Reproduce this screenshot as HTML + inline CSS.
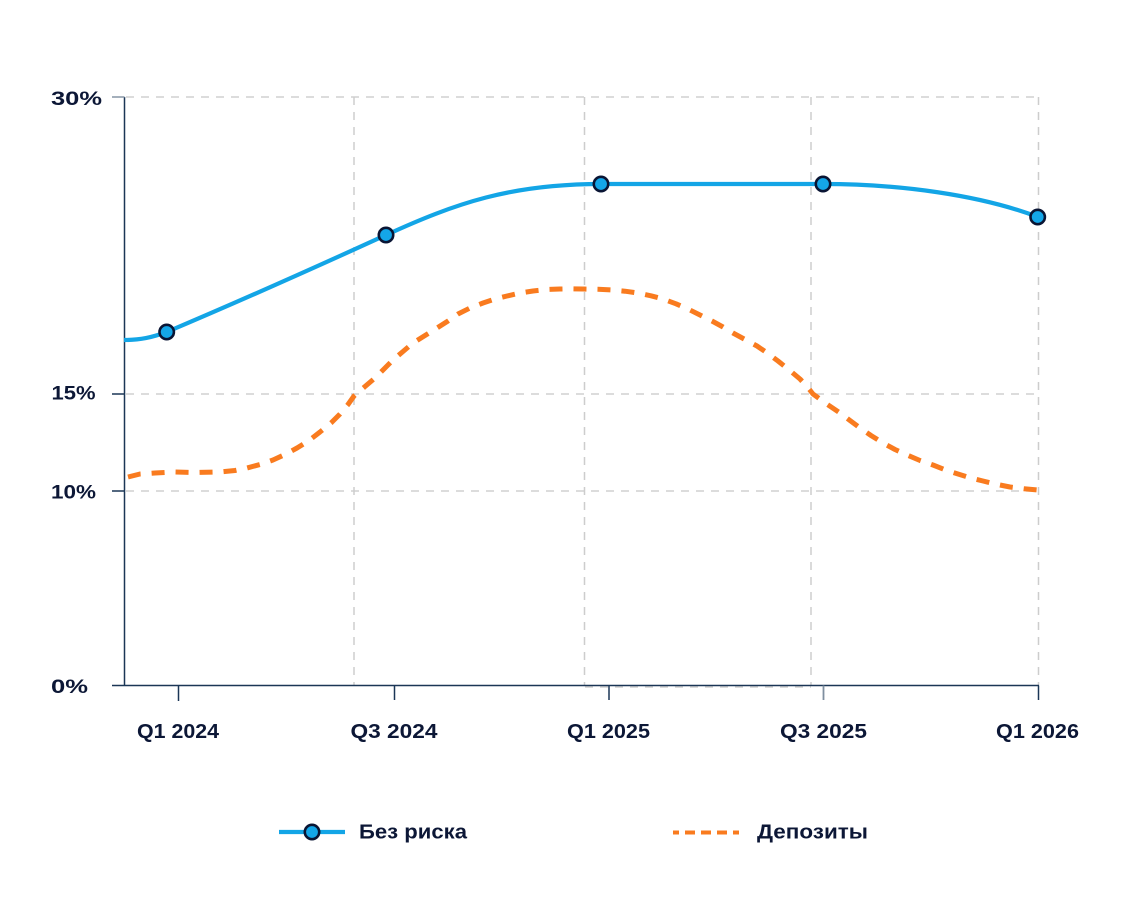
<!DOCTYPE html>
<html>
<head>
<meta charset="utf-8">
<style>
  html, body { margin: 0; padding: 0; background: #ffffff; }
  body { width: 1144px; height: 919px; overflow: hidden; }
  svg { display: block; }
  text { font-family: "Liberation Sans", "DejaVu Sans", sans-serif; font-weight: bold; fill: #0c1736; }
</style>
</head>
<body>
<svg width="1144" height="919" viewBox="0 0 1144 919" xmlns="http://www.w3.org/2000/svg">
  <rect width="1144" height="919" fill="#ffffff"/>

  <!-- horizontal gridlines -->
  <g stroke="#c6c6c6" stroke-width="1.3" stroke-dasharray="8 7" fill="none">
    <line x1="126" y1="97" x2="1038" y2="97"/>
    <line x1="126" y1="394" x2="1038" y2="394"/>
    <line x1="126" y1="491" x2="1038" y2="491"/>
    <line x1="585" y1="687" x2="811" y2="687"/>
  </g>
  <!-- vertical gridlines -->
  <g stroke="#cdcdcd" stroke-width="1.5" stroke-dasharray="8 7" fill="none">
    <line x1="354" y1="97" x2="354" y2="685"/>
    <line x1="584.5" y1="97" x2="584.5" y2="685"/>
    <line x1="811" y1="97" x2="811" y2="685"/>
    <line x1="1038.5" y1="97" x2="1038.5" y2="685"/>
  </g>

  <!-- axes -->
  <g stroke="#1b3656" stroke-width="1.5" fill="none">
    <line x1="124.5" y1="97" x2="124.5" y2="685.5"/>
    <line x1="112" y1="685.5" x2="1039" y2="685.5"/>
    <line x1="112" y1="394" x2="124.5" y2="394"/>
    <line x1="112" y1="491" x2="124.5" y2="491"/>
    <line x1="178.5" y1="685.5" x2="178.5" y2="701"/>
    <line x1="394.5" y1="685.5" x2="394.5" y2="700"/>
    <line x1="609" y1="685.5" x2="609" y2="700"/>
    <line x1="1038.5" y1="685.5" x2="1038.5" y2="700"/>
  </g>
  <line x1="112" y1="97" x2="124.5" y2="97" stroke="#8796a6" stroke-width="1.5"/>
  <line x1="823.5" y1="685.5" x2="823.5" y2="700" stroke="#7f8fa0" stroke-width="1.8"/>

  <!-- y labels -->
  <text x="51" y="105" font-size="19.5" textLength="51" lengthAdjust="spacingAndGlyphs">30%</text>
  <text x="51.5" y="399.5" font-size="19.5" textLength="44" lengthAdjust="spacingAndGlyphs">15%</text>
  <text x="51" y="498.5" font-size="19.5" textLength="45" lengthAdjust="spacingAndGlyphs">10%</text>
  <text x="51" y="693" font-size="19.5" textLength="37" lengthAdjust="spacingAndGlyphs">0%</text>

  <!-- x labels -->
  <text x="137" y="738" font-size="20" textLength="82" lengthAdjust="spacingAndGlyphs">Q1 2024</text>
  <text x="350.5" y="738" font-size="20" textLength="87" lengthAdjust="spacingAndGlyphs">Q3 2024</text>
  <text x="567" y="738" font-size="20" textLength="83" lengthAdjust="spacingAndGlyphs">Q1 2025</text>
  <text x="780" y="738" font-size="20" textLength="87" lengthAdjust="spacingAndGlyphs">Q3 2025</text>
  <text x="996" y="738" font-size="20" textLength="83" lengthAdjust="spacingAndGlyphs">Q1 2026</text>

  <!-- orange dashed series -->
  <polyline fill="none" stroke="#f97b1f" stroke-width="5" stroke-dasharray="13 11" stroke-linejoin="round"
    points="128,477 140,474 155,473 173,472 195,472.5 220,472 235,470.5 247,468 260,464.5 273,460 285,454.5 297,448 309,440.5 320,432 331,423 340,414 348,404.5 354,396 365,386.5 375,378 384,369 393,360 403,351.5 413,343 425,335.5 437,328 448,321 458,314 470,308 483,303 495,299 507,296 520,293 533,291 547,289.5 560,289 572,288.8 583,289 598,289.3 612,290 625,291.2 638,293 651,295.8 663,299 676,303.8 688,309 700,315 712,321 723,327 733,333 745,339.5 757,346 768,353.5 778,361 789,369.8 800,379 807,386.5 813,394 826,403.5 840,413 850,420.5 860,428 871,435.5 883,443 895,449.5 907,455 920,460.5 933,465 945,469.8 958,474 970,477.8 983,481 996,484.2 1010,487 1024,488.8 1038,490"/>

  <!-- blue series -->
  <path fill="none" stroke="#13a5e6" stroke-width="4.2" stroke-linecap="butt"
    d="M124,340 C140,340 152,337.5 166.7,332 C240,301 316,267 386,235 C456,203 511,184 601,184 L823,184 C900,184 980,195 1038,217"/>
  <g fill="#14a6e8" stroke="#0a1534" stroke-width="2.6">
    <circle cx="166.7" cy="332" r="7.2"/>
    <circle cx="386" cy="235" r="7.2"/>
    <circle cx="601" cy="184" r="7.2"/>
    <circle cx="823" cy="184" r="7.2"/>
    <circle cx="1037.7" cy="217" r="7.2"/>
  </g>

  <!-- legend -->
  <line x1="279" y1="832" x2="345" y2="832" stroke="#13a5e6" stroke-width="4.2"/>
  <circle cx="312" cy="832" r="7.2" fill="#14a6e8" stroke="#0a1534" stroke-width="2.6"/>
  <text x="359" y="838.5" font-size="20" textLength="108" lengthAdjust="spacingAndGlyphs">Без риска</text>

  <line x1="673" y1="832.5" x2="739" y2="832.5" stroke="#f97b1f" stroke-width="4" stroke-dasharray="10 6" stroke-dashoffset="4"/>
  <text x="757" y="838.5" font-size="20" textLength="111" lengthAdjust="spacingAndGlyphs">Депозиты</text>
</svg>
</body>
</html>
